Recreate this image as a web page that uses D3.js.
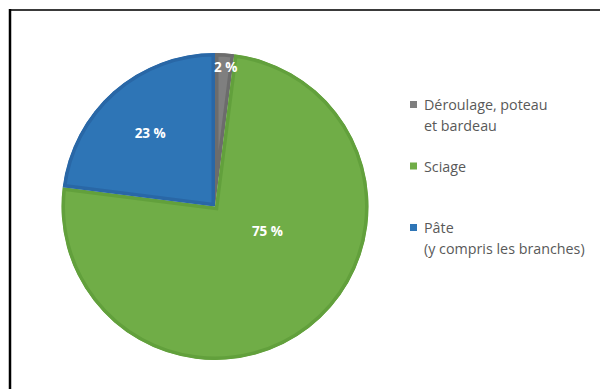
<!DOCTYPE html>
<html>
<head>
<meta charset="utf-8">
<script src="https://cdn.jsdelivr.net/npm/d3@7"></script>
<style>
  html, body { margin: 0; padding: 0; background: #fff; }
  svg { display: block; }
</style>
</head>
<body>
<svg id="chart" width="600" height="389"></svg>
<script>
// Répartition de la récolte par utilisation
const categories = ["Déroulage, poteau|et bardeau", "Sciage", "Pâte|(y compris les branches)"];
const shares = [2, 75, 23];
const fills = ["#7f7f7f", "#70ad47", "#2e75b6"];
const edges = ["#6c6c6c", "#62a03c", "#2967a6"];

const svg = d3.select("#chart");
const W = 600, H = 389;

// Cadre (bords gauche et haut)
svg.append("line").attr("x1", 9).attr("x2", W).attr("y1", 10).attr("y2", 10)
  .attr("stroke", "#3a3a3a").attr("stroke-width", 2);
svg.append("line").attr("x1", 10).attr("x2", 10).attr("y1", 9).attr("y2", H)
  .attr("stroke", "#000").attr("stroke-width", 2.5);

const cx = 215, cy = 206.5, R = 153.5;
const g = svg.append("g").attr("transform", `translate(${cx},${cy})`);

const pie = d3.pie().sort(null).value(d => d)(shares);
const arc = d3.arc().innerRadius(0).outerRadius(R);

const defs = svg.append("defs");
pie.forEach((d, i) => {
  defs.append("clipPath").attr("id", "clip" + i)
    .append("path").attr("d", arc(d));
});

// Secteurs, avec bordure intérieure plus foncée
g.selectAll("path.slice").data(pie).join("path")
  .attr("class", "slice")
  .attr("d", arc)
  .attr("fill", (d, i) => fills[i])
  .attr("stroke", (d, i) => edges[i])
  .attr("stroke-width", 7)
  .attr("stroke-linejoin", "miter")
  .attr("clip-path", (d, i) => `url(#clip${i})`);

// Étiquettes de pourcentage
const labelPos = (d, i) => {
  const mid = (d.startAngle + d.endAngle) / 2;
  if (i === 0) return [Math.sin(mid) * 140 + 2, -Math.cos(mid) * 140];
  if (i === 1) {
    const a = mid - 0.47, r = 58;
    return [Math.sin(a) * r, -Math.cos(a) * r];
  }
  return [Math.sin(mid) * 98, -Math.cos(mid) * 98];
};
g.selectAll("text.pct").data(pie).join("text")
  .attr("class", "pct")
  .attr("x", (d, i) => labelPos(d, i)[0])
  .attr("y", (d, i) => labelPos(d, i)[1])
  .attr("dy", "0.35em")
  .attr("text-anchor", "middle")
  .attr("fill", "#fff")
  .attr("font-family", "'Open Sans', 'Liberation Sans', sans-serif")
  .attr("font-weight", "bold")
  .attr("font-size", 13.5)
  .text(d => `${d.data} %`);

// Légende
const legendY = d3.scalePoint().domain(categories).range([105, 228]);
const leg = svg.append("g")
  .attr("font-family", "'Open Sans', 'Liberation Sans', sans-serif")
  .attr("font-size", 14.3)
  .attr("fill", "#595959");
categories.forEach((c, i) => {
  const y = legendY(c);
  leg.append("rect").attr("x", 410).attr("y", y - 4).attr("width", 7).attr("height", 7)
    .attr("fill", fills[i]);
  const t = leg.append("text").attr("x", 424).attr("y", y);
  c.split("|").forEach((line, k) => {
    t.append("tspan").attr("x", 424).attr("dy", k === 0 ? "0.35em" : 21).text(line);
  });
});
</script>
</body>
</html>
